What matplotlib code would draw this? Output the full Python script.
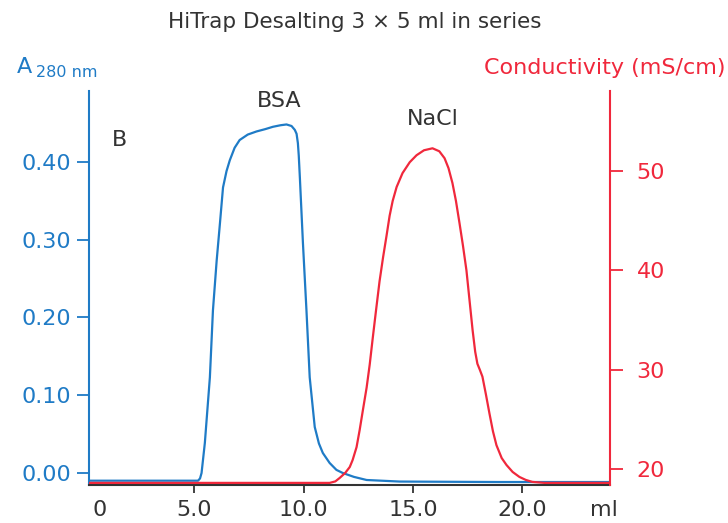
import numpy as np
import matplotlib
matplotlib.use('Agg')
import matplotlib.pyplot as plt

# elution volume (ml) and A280 for the BSA peak
vol_a280 = [0.2, 5.18, 5.27, 5.34, 5.49, 5.72, 5.86, 6.03, 6.18, 6.32, 6.48, 6.63, 6.85, 7.08,
            7.45, 7.85, 8.25, 8.60, 8.95, 9.22, 9.45, 9.60, 9.68, 9.74, 9.78, 9.83, 9.97, 10.13,
            10.28, 10.51, 10.70, 10.88, 11.19, 11.50, 11.79, 12.30, 12.88, 14.39, 18.9, 23.96]
a280 = [-0.0099, -0.0099, -0.007, 0.0, 0.0386, 0.123, 0.209, 0.273, 0.321, 0.367, 0.388,
        0.402, 0.418, 0.428, 0.435, 0.439, 0.442, 0.445, 0.447, 0.448, 0.446, 0.441, 0.436,
        0.424, 0.408, 0.380, 0.296, 0.210, 0.123, 0.0591, 0.038, 0.0257, 0.0129, 0.004, 0.0,
        -0.005, -0.009, -0.011, -0.0116, -0.0116]

# conductivity trace (mS/cm) for the salt peak
vol_cond = [0.25, 11.19, 11.45, 11.65, 11.90, 12.11, 12.24, 12.42, 12.56, 12.70, 12.88,
            13.02, 13.16, 13.30, 13.47, 13.63, 13.79, 13.93, 14.07, 14.25, 14.52, 14.85,
            15.16, 15.50, 15.89, 16.20, 16.44, 16.62, 16.80, 16.96, 17.12, 17.28, 17.44,
            17.58, 17.72, 17.84, 17.94, 18.05, 18.17, 18.33, 18.49, 18.65, 18.81, 19.05,
            19.27, 19.55, 19.86, 20.15, 20.45, 21.0, 23.96]
cond = [18.6, 18.6, 18.75, 19.1, 19.6, 20.2, 20.9, 22.2, 23.9, 25.8, 28.2, 30.5, 33.2,
        35.8, 38.9, 41.3, 43.5, 45.5, 47.0, 48.4, 49.8, 50.9, 51.6, 52.1, 52.3, 52.0,
        51.3, 50.3, 48.8, 47.0, 44.8, 42.5, 40.0, 37.0, 34.0, 31.8, 30.6, 30.0, 29.3,
        27.5, 25.6, 23.8, 22.4, 21.1, 20.4, 19.7, 19.2, 18.9, 18.7, 18.6, 18.6]

xtick_pos = [0.7, 5, 10, 15, 20, 23.7]
xtick_lbl = ['0', '5.0', '10.0', '15.0', '20.0', 'ml']
a_ticks = [0.0, 0.1, 0.2, 0.3, 0.4]
c_ticks = [20, 30, 40, 50]

blue = '#1f7bc6'
red = '#f0283c'
dark = '#333333'

fig = plt.figure(figsize=(7.28, 5.23), dpi=100)
ax = fig.add_axes([0.1223, 0.0727, 0.7157, 0.7533])
ax2 = ax.twinx()

ax.plot(vol_a280, a280, color=blue, lw=1.6, zorder=3)
ax2.plot(vol_cond, cond, color=red, lw=1.6, zorder=3)

ax.set_xlim(0.2, 24.0)
ax.set_ylim(-0.0154, 0.491)
ax2.set_ylim(18.39, 58.07)

# spines
ax.spines['top'].set_visible(False)
ax.spines['right'].set_visible(False)
ax.spines['left'].set_color(blue)
ax.spines['left'].set_linewidth(1.5)
ax.spines['bottom'].set_color(dark)
ax.spines['bottom'].set_linewidth(1.5)
for s in ['top', 'left', 'bottom']:
    ax2.spines[s].set_visible(False)
ax2.spines['right'].set_color(red)
ax2.spines['right'].set_linewidth(1.5)

# ticks
ax.set_xticks(xtick_pos)
ax.set_xticklabels(xtick_lbl)
ax.tick_params(axis='x', direction='out', length=6, width=1.3, color=dark,
               labelsize=16, labelcolor=dark, pad=5)
xt = ax.xaxis.get_major_ticks()
xt[0].tick1line.set_visible(False)
xt[-1].tick1line.set_visible(False)

ax.set_yticks(a_ticks)
ax.set_yticklabels(['%.2f' % v for v in a_ticks])
ax.tick_params(axis='y', direction='out', length=9, width=1.3, color=blue,
               labelsize=16, labelcolor=blue, pad=4)

ax2.set_yticks(c_ticks)
ax2.tick_params(axis='y', direction='out', length=9, width=1.3, color=red,
                labelsize=16, labelcolor=red, pad=10)

# labels
fig.text(0.4876, 0.958, 'HiTrap Desalting 3 \u00d7 5 ml in series', ha='center', va='center',
         fontsize=15.5, color=dark)
fig.text(0.023, 0.860, 'A', ha='left', va='baseline', fontsize=16, color=blue)
fig.text(0.050, 0.853, '280 nm', ha='left', va='baseline', fontsize=11.5, color=blue)
fig.text(0.996, 0.858, 'Conductivity (mS/cm)', ha='right', va='baseline', fontsize=16,
         color=red)

ax.text(1.6, 0.428, 'B', ha='center', va='center', fontsize=16, color=dark)
ax.text(8.9, 0.478, 'BSA', ha='center', va='center', fontsize=16, color=dark)
ax.text(15.9, 0.455, 'NaCl', ha='center', va='center', fontsize=16, color=dark)

fig.savefig('out.png', dpi=100)
